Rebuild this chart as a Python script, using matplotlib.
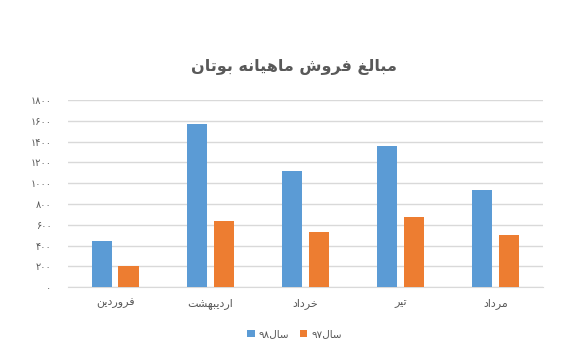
import matplotlib.pyplot as plt
import numpy as np

# داده‌ها
months = ["فروردین", "اردیبهشت", "خرداد", "تیر", "مرداد"]
sales_98 = [445, 1570, 1118, 1359, 935]
sales_97 = [205, 637, 532, 676, 503]
y_ticks = [0, 200, 400, 600, 800, 1000, 1200, 1400, 1600, 1800]
title = "مبالغ فروش ماهیانه بوتان"
label_98 = "سال۹۸"
label_97 = "سال۹۷"

# شکل‌دهی ساده حروف فارسی (بدون arabic_reshaper)
FORMS = {
    "ا": ("\uFE8D", "\uFE8E", None, None),
    "ب": ("\uFE8F", "\uFE90", "\uFE91", "\uFE92"),
    "ت": ("\uFE95", "\uFE96", "\uFE97", "\uFE98"),
    "خ": ("\uFEA5", "\uFEA6", "\uFEA7", "\uFEA8"),
    "د": ("\uFEA9", "\uFEAA", None, None),
    "ر": ("\uFEAD", "\uFEAE", None, None),
    "س": ("\uFEB1", "\uFEB2", "\uFEB3", "\uFEB4"),
    "ش": ("\uFEB5", "\uFEB6", "\uFEB7", "\uFEB8"),
    "غ": ("\uFECD", "\uFECE", "\uFECF", "\uFED0"),
    "ف": ("\uFED1", "\uFED2", "\uFED3", "\uFED4"),
    "ل": ("\uFEDD", "\uFEDE", "\uFEDF", "\uFEE0"),
    "م": ("\uFEE1", "\uFEE2", "\uFEE3", "\uFEE4"),
    "ن": ("\uFEE5", "\uFEE6", "\uFEE7", "\uFEE8"),
    "ه": ("\uFEE9", "\uFEEA", "\uFEEB", "\uFEEC"),
    "و": ("\uFEED", "\uFEEE", None, None),
    "ی": ("\uFBFC", "\uFBFD", "\uFBFE", "\uFBFF"),
}


def dual(c):
    return c in FORMS and FORMS[c][2] is not None


def shape(text):
    out = []
    for i, c in enumerate(text):
        if c not in FORMS:
            out.append(c)
            continue
        prev = text[i - 1] if i > 0 else ""
        nxt = text[i + 1] if i + 1 < len(text) else ""
        jp = dual(prev)
        jn = dual(c) and nxt in FORMS
        if jp and jn:
            out.append(FORMS[c][3])
        elif jp:
            out.append(FORMS[c][1])
        elif jn:
            out.append(FORMS[c][2])
        else:
            out.append(FORMS[c][0])
    s = "".join(out)
    # ترتیب نمایشی راست به چپ، اعداد چپ به راست می‌مانند
    runs = []
    for ch in s:
        isdig = ch.isdigit()
        if runs and runs[-1][0] == isdig:
            runs[-1][1] += ch
        else:
            runs.append([isdig, ch])
    return "".join(r if d else r[::-1] for d, r in reversed(runs))


def fa_num(n):
    return str(n).translate(str.maketrans("0123456789", "۰۱۲۳۴۵۶۷۸۹"))


plt.rcParams["font.family"] = ["DejaVu Sans"]
text_color = "#595959"

fig = plt.figure(figsize=(5.71, 3.51), dpi=100)
ax = fig.add_axes([0.119, 0.1815, 0.832, 0.5335])

x = np.arange(len(months))
w = 0.22
ax.bar(x - 0.142, sales_98, width=w, color="#5B9BD5", label=shape(label_98), zorder=3)
ax.bar(x + 0.142, sales_97, width=w, color="#ED7D31", label=shape(label_97), zorder=3)

ax.set_xlim(-0.5, len(months) - 0.5)
ax.set_ylim(0, 1800)
ax.set_yticks(y_ticks)
ax.set_yticklabels([fa_num(v) for v in y_ticks], fontsize=7, color=text_color)
ax.set_xticks(x)
ax.set_xticklabels([shape(m) for m in months], fontsize=8, color=text_color)
ax.tick_params(axis="both", length=0)
ax.tick_params(axis="y", pad=12)
ax.tick_params(axis="x", pad=8)
ax.grid(axis="y", color="#D9D9D9", linewidth=1, zorder=0)
for sp in ["top", "right", "left"]:
    ax.spines[sp].set_visible(False)
ax.spines["bottom"].set_color("#D9D9D9")

fig.text(0.514, 0.81, shape(title), ha="center", va="center",
         fontsize=11.5, fontweight="bold", color=text_color)

fig.legend(loc="center", bbox_to_anchor=(0.516, 0.048), ncol=2, frameon=False,
           fontsize=7.5, handlelength=0.7, handleheight=0.7, columnspacing=1.0,
           handletextpad=0.4, labelcolor=text_color)

fig.savefig("out.png", dpi=100)
